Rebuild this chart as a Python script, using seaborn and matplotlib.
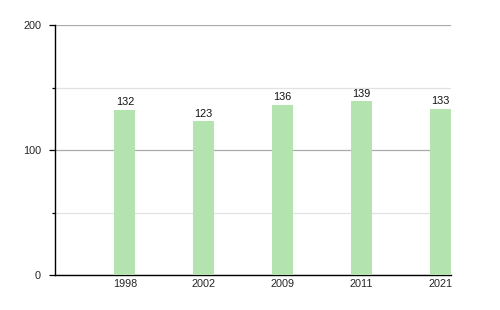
import matplotlib
matplotlib.use("Agg")
import matplotlib.pyplot as plt
import seaborn as sns
import pandas as pd
from matplotlib.ticker import FixedLocator

years = ["1998", "2002", "2009", "2011", "2021"]
values = [132, 123, 136, 139, 133]

sns.set_style("white")
plt.rcParams['font.family'] = ['Liberation Sans', 'DejaVu Sans']

df = pd.DataFrame({"year": years, "value": values})

fig = plt.figure(figsize=(5, 3.1), dpi=100)
ax = fig.add_axes([0.11, 0.1129, 0.792, 0.806])

sns.barplot(data=df, x="year", y="value", color="#b3e4b0", saturation=1,
            width=0.268, ax=ax, zorder=3, linewidth=0)

for c in ax.containers:
    ax.bar_label(c, padding=2, fontsize=7.8, color="#111111")

ax.set_ylim(0, 200)
ax.set_xlim(-0.886, 4.134)
ax.yaxis.set_major_locator(FixedLocator([0, 100, 200]))
ax.yaxis.set_minor_locator(FixedLocator([50, 150]))
ax.grid(which="major", axis="y", color="#aaaaaa", linewidth=0.9, zorder=0)
ax.grid(which="minor", axis="y", color="#e2e2e2", linewidth=0.9, zorder=0)
ax.grid(axis="x", visible=False)
ax.set_axisbelow(True)

ax.tick_params(axis="y", which="major", length=4, width=0.9, color="black",
               pad=6, labelsize=7.8, left=True)
ax.tick_params(axis="y", which="minor", length=2, width=0.9, color="black", left=True)
ax.tick_params(axis="x", length=0, pad=3, labelsize=7.8)

for s in ["top", "right"]:
    ax.spines[s].set_visible(False)
for s in ["left", "bottom"]:
    ax.spines[s].set_color("black")
    ax.spines[s].set_linewidth(1.0)

ax.set_xlabel("")
ax.set_ylabel("")

fig.savefig("out.png", dpi=100)
